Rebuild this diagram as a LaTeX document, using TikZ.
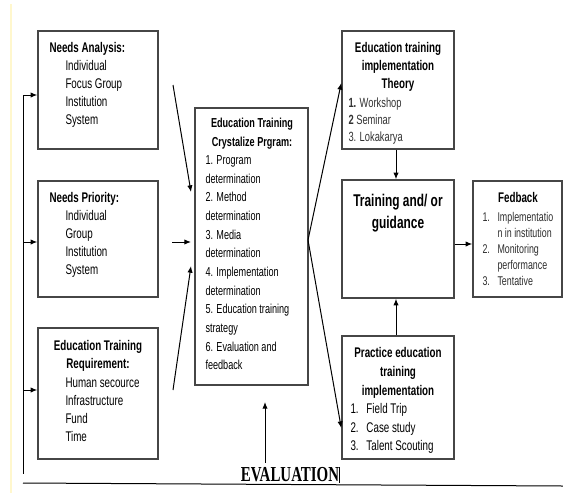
\documentclass[tikz,border=0pt]{standalone}
\usepackage{fontspec}
\setmainfont{Liberation Sans}[FakeStretch=0.7]
\newfontfamily\evalfont{Liberation Serif}[FakeStretch=0.7]
\usetikzlibrary{arrows.meta}

\tikzset{every picture/.style={line width=0.75pt}}
\tikzset{
  >={Latex[length=5pt,width=4pt]},
  box/.style={draw={rgb, 255:red, 70; green, 70; blue, 70 }, line width=1.1pt, inner sep=0pt},
  txt/.style={inner sep=0pt, align=left},
  head/.style={inner sep=0pt, align=center, font=\bfseries\fontsize{10.5}{13.5}\selectfont},
}

\begin{document}
\begin{tikzpicture}[x=0.75pt,y=0.75pt,yscale=-1,xscale=1]
\useasboundingbox (0,0) rectangle (563,493);
%scan edge
\draw [color={rgb, 255:red, 255; green, 247; blue, 205 }, line width=1pt] (11,4) -- (11,493);

%Shape: Rectangle
\node [box, minimum width=90pt, minimum height=88.5pt] (na) at (98,90) {};
%Shape: Rectangle
\node [box, minimum width=90pt, minimum height=87pt] (np) at (98,239) {};
%Shape: Rectangle
\node [box, minimum width=90pt, minimum height=98.25pt] (etr) at (98,393.5) {};
%Shape: Rectangle
\node [box, minimum width=84.75pt, minimum height=207.75pt] (ctr) at (251.5,246.5) {};
%Shape: Rectangle
\node [box, minimum width=84pt, minimum height=88.5pt] (thy) at (398,90) {};
%Shape: Rectangle
\node [box, minimum width=84pt, minimum height=88.5pt] (trn) at (398,239) {};
%Shape: Rectangle
\node [box, minimum width=84pt, minimum height=92.25pt] (prc) at (398,397.5) {};
%Shape: Rectangle
\node [box, minimum width=66.75pt, minimum height=87pt] (fdb) at (517.5,239) {};

% Text Node
\node [txt, anchor=north west, font=\fontsize{10.5}{13.5}\selectfont] (na-t) at (49,42) {\textbf{Needs Analysis:}\\\hspace*{12pt}Individual\\\hspace*{12pt}Focus Group\\\hspace*{12pt}Institution\\\hspace*{12pt}System};
% Text Node
\node [txt, anchor=north west, font=\fontsize{10.5}{13.5}\selectfont] (np-t) at (49,192) {\textbf{Needs Priority:}\\\hspace*{12pt}Individual\\\hspace*{12pt}Group\\\hspace*{12pt}Institution\\\hspace*{12pt}System};
% Text Node
\node [head, anchor=north] (etr-h) at (98,340) {Education Training\\Requirement:};
\node [txt, anchor=north west, font=\fontsize{10.5}{13.7}\selectfont] (etr-t) at (65,377) {Human secource\\Infrastructure\\Fund\\Time};
% Text Node
\node [head, anchor=north, font=\bfseries\fontsize{9.75}{14}\selectfont] (ctr-h) at (252,118) {Education Training\\Crystalize Prgram:};
\node [txt, anchor=north west, font=\fontsize{9.75}{14}\selectfont] (ctr-t) at (205,155) {1. Program\\determination\\2. Method\\determination\\3. Media\\determination\\4. Implementation\\determination\\5. Education training\\strategy\\6. Evaluation and\\feedback};
% Text Node
\node [head, anchor=north] (thy-h) at (398,42) {Education training\\implementation\\Theory};
\node [txt, anchor=north west, font=\fontsize{10}{12.75}\selectfont, color={rgb, 255:red, 50; green, 50; blue, 50 }] (thy-t) at (348,97) {\textbf{1.} Workshop\\\textbf{2} Seminar\\3. Lokakarya};
% Text Node
\node [head, anchor=north, font=\bfseries\fontsize{12.75}{16.5}\selectfont] (trn-t) at (398,194) {Training and/ or\\guidance};
% Text Node
\node [head, anchor=north, font=\bfseries\fontsize{10.5}{14.25}\selectfont] (prc-h) at (398,347) {Practice education\\training\\implementation};
\node [txt, anchor=north west, font=\fontsize{10.5}{13.9}\selectfont] (prc-t) at (350,403) {\makebox[12pt][l]{1.}Field Trip\\\makebox[12pt][l]{2.}Case study\\\makebox[12pt][l]{3.}Talent Scouting};
% Text Node
\node [head, anchor=north] (fdb-h) at (518,192) {Fedback};
\node [txt, anchor=north west, font=\fontsize{9.5}{12}\selectfont, color={rgb, 255:red, 45; green, 45; blue, 45 }] (fdb-t) at (482,212) {\makebox[11.25pt][l]{1.}Implementatio\\\hspace*{11.25pt}n in institution\\\makebox[11.25pt][l]{2.}Monitoring\\\hspace*{11.25pt}performance\\\makebox[11.25pt][l]{3.}Tentative};
% Text Node
\node [font=\evalfont\bfseries\fontsize{16}{18}\selectfont] (ev) at (290,475) {EVALUATION};

%Straight Lines
\coordinate (l1) at (23,95);
\coordinate (l2) at (23,242);
\coordinate (l3) at (23,390);
\coordinate (lb) at (23,474);
\draw (l1) -- (lb);
\draw [->] (l1) -- (l1 -| na.west);
\draw [->] (l2) -- (l2 -| np.west);
\draw [->] (l3) -- (l3 -| etr.west);
\draw (23,483) -- (563,486);
\draw (339,467) -- (339,483);

%Straight Lines
\coordinate (a1) at (173,85);
\coordinate (a1e) at (191,192);
\coordinate (a2) at (172,242);
\coordinate (a2e) at (191,242);
\coordinate (a3) at (173,390);
\coordinate (a3e) at (191,266);
\draw [->] (a1) -- (a1e);
\draw [->] (a2) -- (a2e);
\draw [->] (a3) -- (a3e);

%Straight Lines
\coordinate (fork) at (308,240);
\draw [->] (fork) -- ([yshift=-5.25pt]thy.west);
\draw [->] (fork) -- ([yshift=22.9pt]prc.west);
\draw [->] ([xshift=-1.5pt]thy.south) -- ([xshift=-1.5pt]trn.north);
\draw [->] ([xshift=-1.5pt]prc.north) -- ([xshift=-1.5pt]trn.south);
\draw [->] ([yshift=3.75pt]trn.east) -- ([yshift=3.75pt]trn.east -| fdb.west);

%Straight Lines
\coordinate (ev-tip) at (265,402);
\draw [->] (ev-tip |- ev.north) -- (ev-tip);
\end{tikzpicture}
\end{document}
